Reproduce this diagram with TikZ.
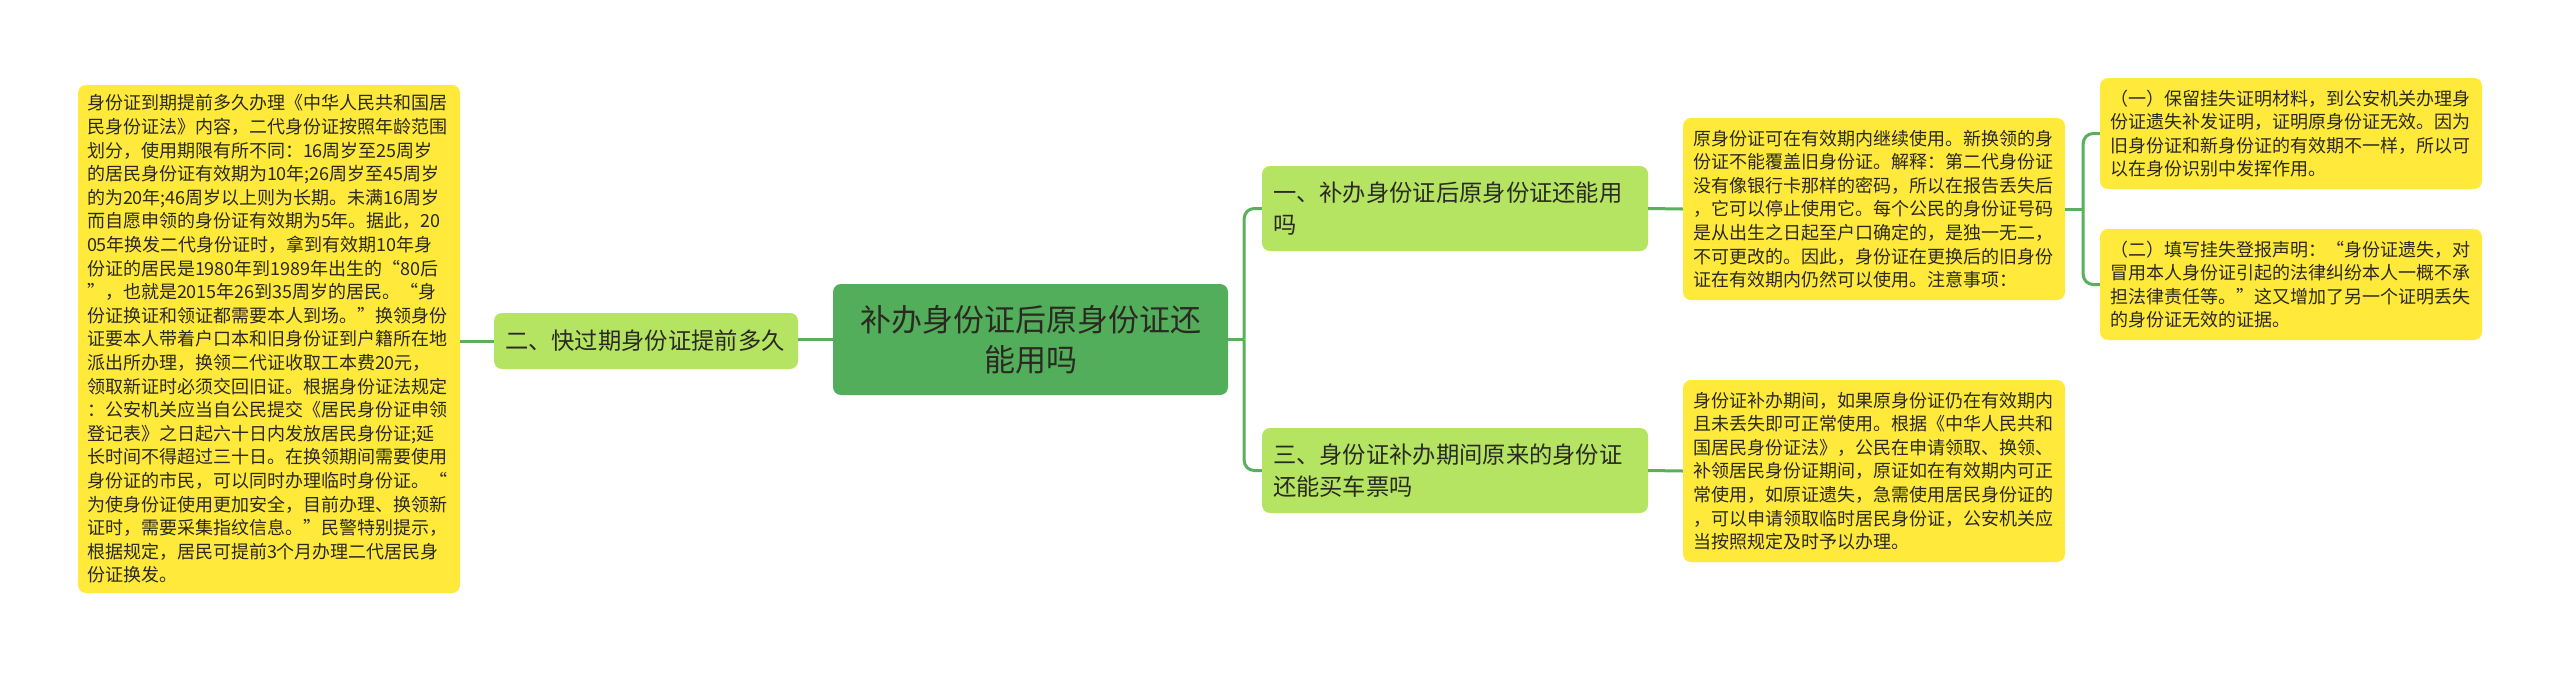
\documentclass[tikz,border=0pt]{standalone}
\usepackage{fontspec}
\setmainfont{Noto Sans CJK SC}
\usetikzlibrary{calc}
\definecolor{cgreen}{HTML}{52AE5A}
\definecolor{lgreen}{HTML}{B5E462}
\definecolor{yel}{HTML}{FFE93B}
\definecolor{linec}{HTML}{5AAE5E}
\definecolor{txt}{HTML}{2A2A22}
\tikzset{
  basebox/.style={rectangle, rounded corners=8pt, draw=none, anchor=center, text=txt, align=left},
  ybox/.style={basebox, fill=yel, inner xsep=10pt, inner ysep=4pt, font=\fontsize{18pt}{23.6pt}\selectfont},
  gbox/.style={basebox, fill=lgreen, inner xsep=11pt, inner ysep=4pt, font=\fontsize{23.3pt}{31.7pt}\selectfont},
  cbox/.style={basebox, fill=cgreen, align=center, inner xsep=10pt, inner ysep=4pt, font=\fontsize{31pt}{40pt}\selectfont},
  conn/.style={draw=linec, line width=3pt, rounded corners=10pt}
}
\begin{document}
\begin{tikzpicture}[x=1pt,y=-1pt]
\useasboundingbox (0,0) rectangle (2560,673);
\fill[white] (0,0) rectangle (2560,673);

\node[cbox, text width=375pt, minimum height=111pt] (C) at (1030.5,339.5)
 {补办身份证后原身份证还\\能用吗};

\node[gbox, text width=282pt, minimum height=56pt] (N2) at (646,341)
 {二、快过期身份证提前多久};

\node[gbox, text width=364pt, minimum height=85pt] (N1) at (1455,208.5)
 {一、补办身份证后原身份证还能用\\吗};

\node[gbox, text width=364pt, minimum height=85pt] (N3) at (1455,470.5)
 {三、身份证补办期间原来的身份证\\还能买车票吗};

\node[ybox, inner xsep=9pt, text width=364pt, minimum height=508pt] (L) at (269,339)
 {身份证到期提前多久办理《中华人民共和国居\\
民身份证法》内容，二代身份证按照年龄范围\\
划分，使用期限有所不同：16周岁至25周岁\\
的居民身份证有效期为10年;26周岁至45周岁\\
的为20年;46周岁以上则为长期。未满16周岁\\
而自愿申领的身份证有效期为5年。据此，20\\
05年换发二代身份证时，拿到有效期10年身\\
份证的居民是1980年到1989年出生的“80后\\
”，也就是2015年26到35周岁的居民。“身\\
份证换证和领证都需要本人到场。”换领身份\\
证要本人带着户口本和旧身份证到户籍所在地\\
派出所办理，换领二代证收取工本费20元，\\
领取新证时必须交回旧证。根据身份证法规定\\
：公安机关应当自公民提交《居民身份证申领\\
登记表》之日起六十日内发放居民身份证;延\\
长时间不得超过三十日。在换领期间需要使用\\
身份证的市民，可以同时办理临时身份证。“\\
为使身份证使用更加安全，目前办理、换领新\\
证时，需要采集指纹信息。”民警特别提示，\\
根据规定，居民可提前3个月办理二代居民身\\
份证换发。};

\node[ybox, text width=362pt, minimum height=182pt] (B1) at (1874,209)
 {原身份证可在有效期内继续使用。新换领的身\\
份证不能覆盖旧身份证。解释：第二代身份证\\
没有像银行卡那样的密码，所以在报告丢失后\\
，它可以停止使用它。每个公民的身份证号码\\
是从出生之日起至户口确定的，是独一无二，\\
不可更改的。因此，身份证在更换后的旧身份\\
证在有效期内仍然可以使用。注意事项：};

\node[ybox, text width=362pt, minimum height=182pt] (B3) at (1874,471)
 {身份证补办期间，如果原身份证仍在有效期内\\
且未丢失即可正常使用。根据《中华人民共和\\
国居民身份证法》，公民在申请领取、换领、\\
补领居民身份证期间，原证如在有效期内可正\\
常使用，如原证遗失，急需使用居民身份证的\\
，可以申请领取临时居民身份证，公安机关应\\
当按照规定及时予以办理。};

\node[ybox, text width=362pt, minimum height=111pt] (Ba) at (2291,133.5)
 {（一）保留挂失证明材料，到公安机关办理身\\
份证遗失补发证明，证明原身份证无效。因为\\
旧身份证和新身份证的有效期不一样，所以可\\
以在身份识别中发挥作用。};

\node[ybox, text width=362pt, minimum height=111pt] (Bb) at (2291,284.5)
 {（二）填写挂失登报声明：“身份证遗失，对\\
冒用本人身份证引起的法律纠纷本人一概不承\\
担法律责任等。”这又增加了另一个证明丢失\\
的身份证无效的证据。};

% connectors
\draw[conn] (C.west) -- (C.west -| N2.east);
\draw[conn] (N2.west) -- (N2.west -| L.east);
\coordinate (j1) at ($(C.east)+(16,0)$);
\draw[conn] (C.east) -- (j1);
\draw[conn] (j1) |- (N1.west);
\draw[conn] (j1) |- (N3.west);
\draw[conn] (N1.east) -- (B1.west);
\draw[conn] (N3.east) -- (B3.west);
\coordinate (j2) at ($(B1.east)+(18,0)$);
\draw[conn] (B1.east) -- (j2);
\draw[conn] (j2) |- (Ba.west);
\draw[conn] (j2) |- (Bb.west);
\end{tikzpicture}
\end{document}
